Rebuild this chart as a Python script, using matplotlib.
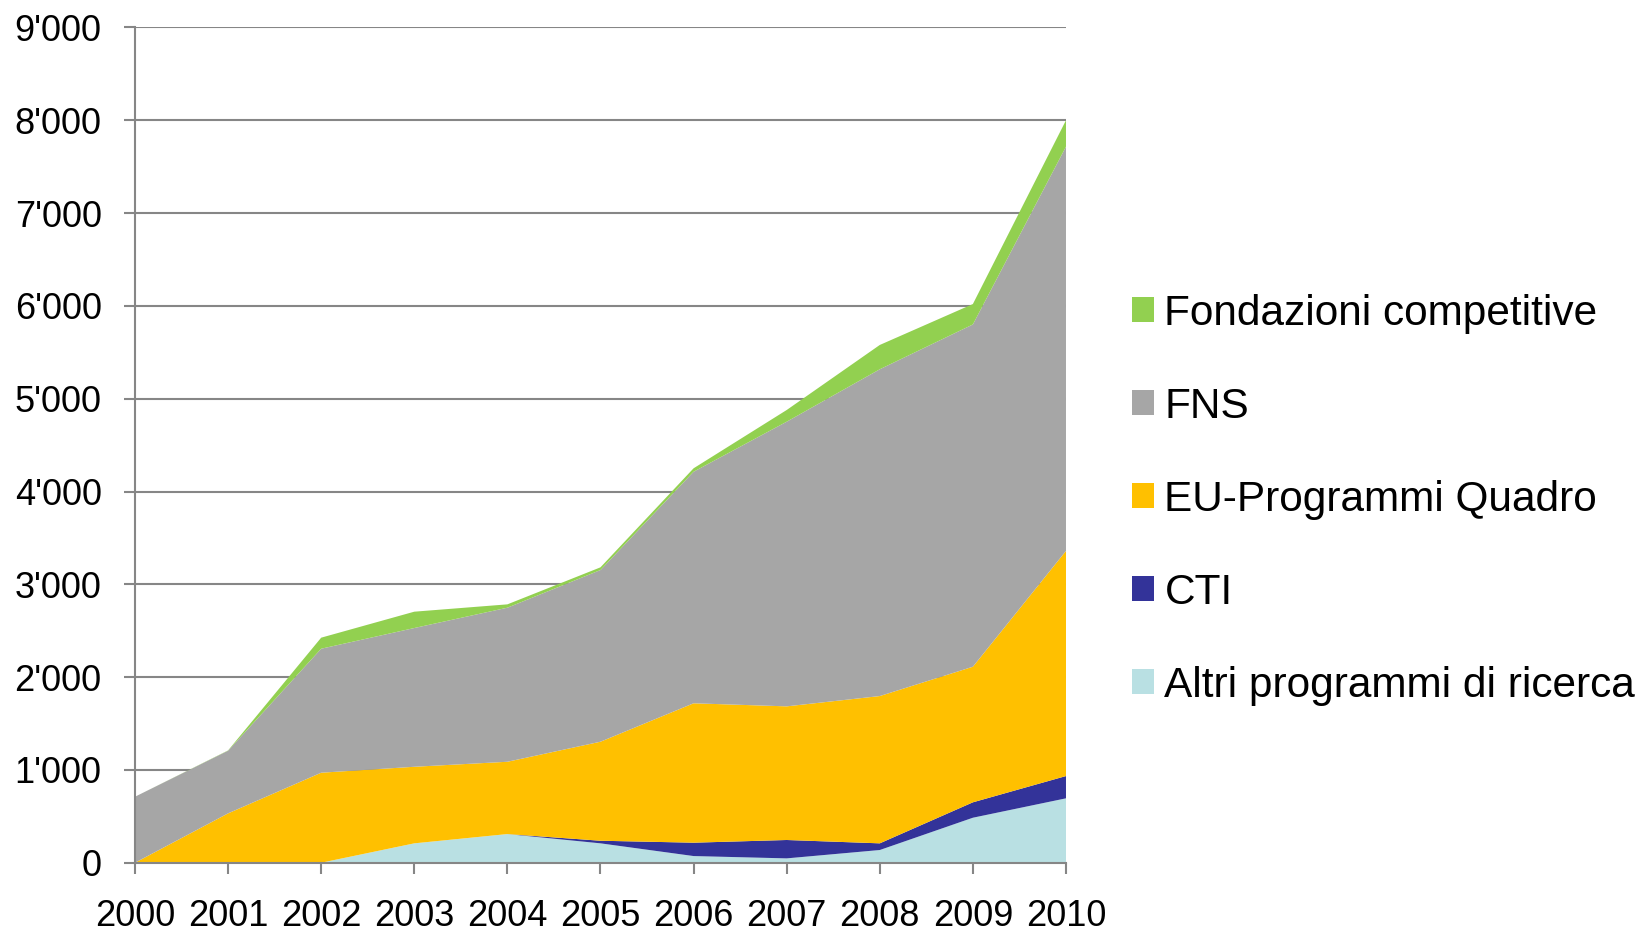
import matplotlib
matplotlib.use("Agg")
import matplotlib.pyplot as plt
import matplotlib.ticker as mticker
from matplotlib.patches import Patch

plt.rcParams['font.family'] = ['Liberation Sans', 'DejaVu Sans']

# Years on the x axis
YEARS = [2000, 2001, 2002, 2003, 2004, 2005, 2006, 2007, 2008, 2009, 2010]

# Series values (stacked from bottom to top)
altri = [0, 0, 0, 209, 309, 209, 72, 47, 137, 485, 694]
cti = [0, 0, 0, 0, 0, 28, 144, 198, 72, 166, 240]
eu_quadro = [0, 532, 970, 825, 779, 1067, 1502, 1440, 1587, 1461, 2426]
fns = [711, 675, 1336, 1495, 1660, 1850, 2495, 3067, 3521, 3688, 4356]
fondazioni = [0, 3, 119, 176, 36, 29, 37, 126, 262, 220, 284]

LABELS = ["Altri programmi di ricerca", "CTI", "EU-Programmi Quadro",
          "FNS", "Fondazioni competitive"]
COLORS = ["#B9E0E3", "#333399", "#FFC000", "#A6A6A6", "#92D050"]

Y_TICKS = [0, 1000, 2000, 3000, 4000, 5000, 6000, 7000, 8000, 9000]

fig = plt.figure(figsize=(16.42, 9.34), dpi=100)
ax = fig.add_axes([0.0822, 0.0763, 0.5670, 0.8943])

ax.stackplot(YEARS, altri, cti, eu_quadro, fns, fondazioni,
             colors=COLORS, linewidth=0, zorder=2)

ax.set_xlim(YEARS[0], YEARS[-1])
ax.set_ylim(0, 9000)
ax.set_xticks(YEARS)
ax.set_yticks(Y_TICKS)
ax.yaxis.set_major_formatter(
    mticker.FuncFormatter(lambda v, p: f"{int(v):,}".replace(",", "'")))

grid_col = "#868686"
ax.grid(axis="y", color=grid_col, linewidth=1.5, zorder=1)
ax.set_axisbelow(True)
for side in ["top", "right"]:
    ax.spines[side].set_visible(False)
for side in ["left", "bottom"]:
    ax.spines[side].set_color(grid_col)
    ax.spines[side].set_linewidth(1.5)
    ax.spines[side].set_zorder(3)

ax.tick_params(axis="y", direction="out", length=8, width=1.5,
               color=grid_col, labelsize=26, pad=16)
ax.tick_params(axis="x", direction="out", length=8, width=1.5,
               color=grid_col, labelsize=26, pad=18)

# Legend, top entry first
handles = [Patch(facecolor=c, edgecolor="none") for c in COLORS[::-1]]
fig.legend(handles, LABELS[::-1], loc="center left",
           bbox_to_anchor=(0.679, 0.465), frameon=False,
           fontsize=30.5, handlelength=0.52, handleheight=0.52,
           handletextpad=0.25, labelspacing=1.25, borderaxespad=0)

fig.savefig("out.png", dpi=100)
